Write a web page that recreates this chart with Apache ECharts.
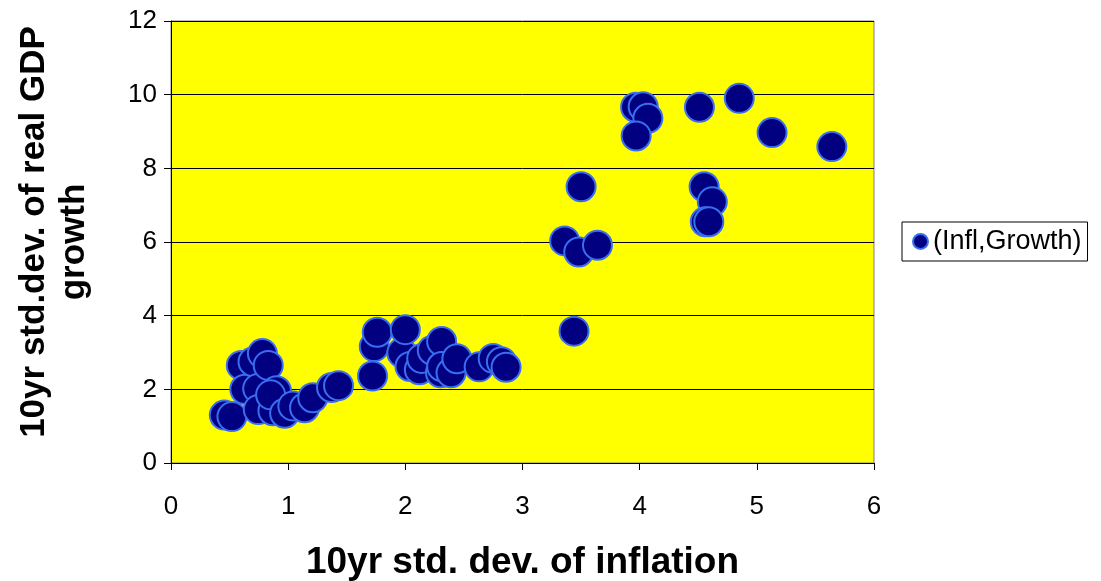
<!DOCTYPE html>
<html>
<head>
<meta charset="utf-8">
<script src="https://cdn.jsdelivr.net/npm/echarts@6/dist/echarts.min.js"></script>
<style>html,body{margin:0;padding:0;background:#fff}#c{width:1101px;height:581px}</style>
</head>
<body>
<div id="c"></div>
<script>
const seriesName = '(Infl,Growth)';
const inflation = [0.455,0.52,0.60,0.63,0.70,0.74,0.745,0.78,0.83,0.87,0.90,0.85,0.97,1.04,1.14,1.21,1.37,1.43,1.72,1.735,1.76,1.97,2.00,2.04,2.12,2.14,2.23,2.31,2.30,2.31,2.39,2.44,2.63,2.75,2.82,2.86,3.36,3.48,3.64,3.50,3.44,3.965,4.03,4.07,3.97,4.51,4.85,5.13,5.64,4.55,4.62,4.56,4.59];
const growth    = [1.30,1.26,2.65,2.00,2.75,2.02,1.45,2.97,2.65,1.42,1.96,1.85,1.35,1.55,1.50,1.77,2.05,2.10,2.36,3.16,3.55,2.99,3.62,2.62,2.53,2.84,3.06,3.30,2.45,2.62,2.45,2.83,2.61,2.84,2.75,2.60,6.03,5.73,5.91,7.50,3.58,9.66,9.67,9.36,8.88,9.66,9.90,8.97,8.59,7.50,7.09,6.55,6.55];
const xTicks = [0,1,2,3,4,5,6];
const yTicks = [0,2,4,6,8,10,12];
const xTitle = '10yr std. dev. of inflation';
const yTitleLines = ['10yr std.dev. of real GDP', 'growth'];

const points = inflation.map((x, i) => [x, growth[i]]);
const chart = echarts.init(document.getElementById('c'), null, {renderer: 'canvas'});
const font = 'Liberation Sans, Arial, sans-serif';
const yTitleStyle = {fontFamily: font, fontSize: 35, fontWeight: 'bold', color: '#000', lineHeight: 40};
chart.setOption({
  animation: false,
  grid: {left: 171, right: 227, top: 21, bottom: 118, show: true, backgroundColor: '#FFFF00', borderColor: '#808080', borderWidth: 1, containLabel: false, outerBoundsMode: 'none'},
  xAxis: {
    type: 'value', min: xTicks[0], max: xTicks[xTicks.length-1], interval: 1,
    name: xTitle, nameLocation: 'middle', nameGap: 81,
    nameTextStyle: {fontFamily: font, fontSize: 37, fontWeight: 'bold', color: '#000'},
    axisLine: {show: true, lineStyle: {color: '#000', width: 1}},
    axisTick: {show: true, inside: false, length: 7, lineStyle: {color: '#000'}},
    axisLabel: {fontFamily: font, fontSize: 26, color: '#000', margin: 31},
    splitLine: {show: false}
  },
  yAxis: {
    type: 'value', min: yTicks[0], max: yTicks[yTicks.length-1], interval: 2,
    name: '{a|' + yTitleLines[0] + '}\n{b|' + yTitleLines[1] + '}',
    nameLocation: 'middle', nameGap: 77, nameRotate: 90,
    nameTextStyle: Object.assign({}, yTitleStyle, {align: 'center', rich: {
      a: Object.assign({}, yTitleStyle, {padding: [0, 0, 0, 20]}),
      b: Object.assign({}, yTitleStyle)
    }}),
    axisLine: {show: true, lineStyle: {color: '#000', width: 1}},
    axisTick: {show: true, inside: false, length: 7, lineStyle: {color: '#000'}},
    axisLabel: {fontFamily: font, fontSize: 26, color: '#000', margin: 14},
    splitLine: {show: true, lineStyle: {color: '#000', width: 1}}
  },
  legend: {
    show: true, left: 902, top: 222, orient: 'vertical',
    borderColor: '#000', borderWidth: 1, padding: [6, 6, 6, 10],
    itemWidth: 15, itemHeight: 15, itemGap: 6,
    textStyle: {fontFamily: font, fontSize: 27, color: '#000'},
    data: [{name: seriesName, icon: 'circle'}]
  },
  series: [{
    name: seriesName, type: 'scatter', data: points, symbol: 'circle', symbolSize: 29,
    itemStyle: {color: '#000080', borderColor: '#3A6EF0', borderWidth: 2, opacity: 1}
  }]
});
</script>
</body>
</html>
